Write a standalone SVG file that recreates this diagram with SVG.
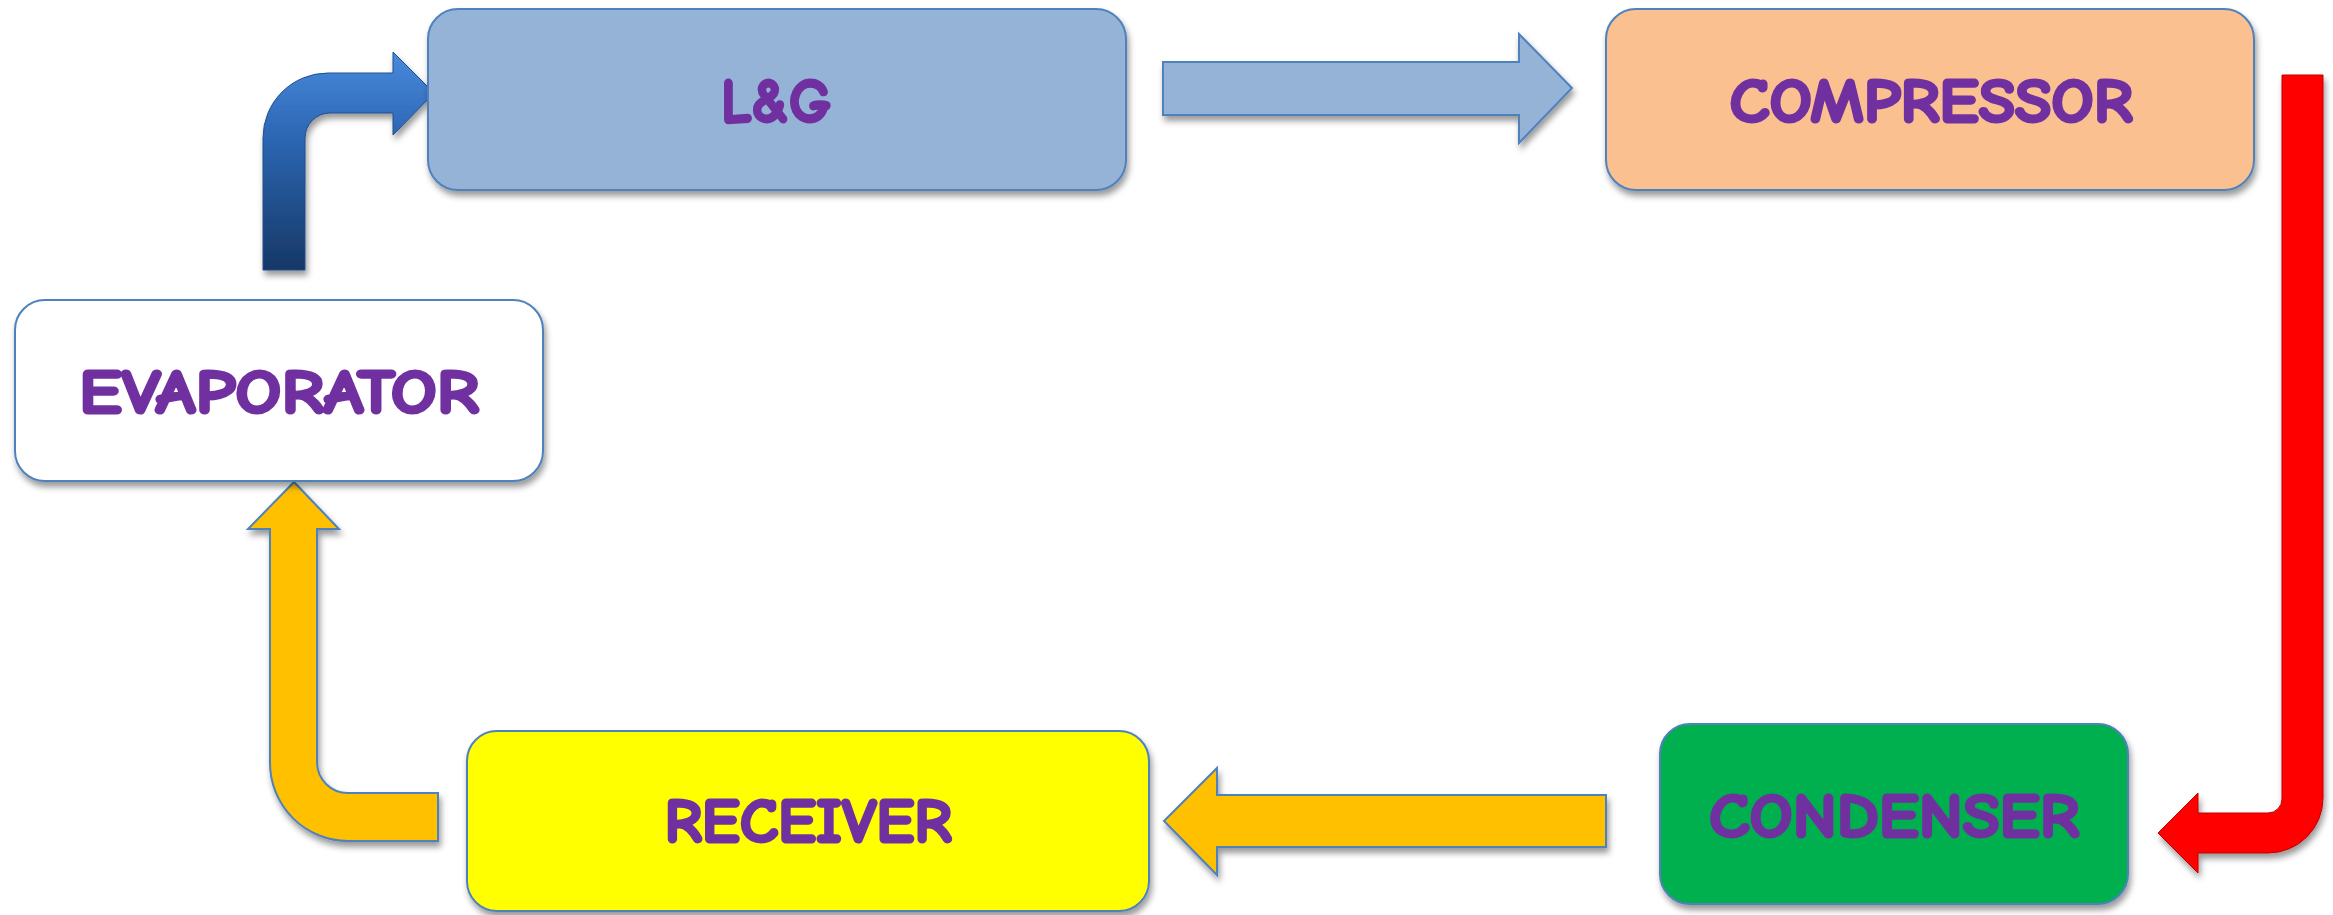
<svg xmlns="http://www.w3.org/2000/svg" width="2333" height="915" viewBox="0 0 2333 915">
  <style>
    .box { stroke: #4F81BD; stroke-width: 2; filter: url(#shadow); }
    .lbl { font-family: "Comic Sans MS", "Comic Neue", "DejaVu Sans", sans-serif; font-weight: bold; font-size: 62px; fill: #7030A0; stroke: #7030A0; stroke-width: 3; stroke-linejoin: round; text-anchor: middle; }
    .arr { stroke: #4F81BD; stroke-width: 2; filter: url(#shadow); }
  </style>
  <defs>
    <filter id="shadow" x="-10%" y="-10%" width="130%" height="130%">
      <feDropShadow dx="2" dy="5" stdDeviation="3" flood-color="#000" flood-opacity="0.4"/>
    </filter>
    <linearGradient id="blueGrad" gradientUnits="userSpaceOnUse" x1="0" y1="52" x2="0" y2="270">
      <stop offset="0" stop-color="#4A8ADB"/>
      <stop offset="0.35" stop-color="#2E6AB8"/>
      <stop offset="1" stop-color="#163866"/>
    </linearGradient>
  </defs>
  <rect width="2333" height="915" fill="#FFFFFF"/>

  <g id="connectors">
    <path id="evap-to-lg" d="M263,270 L263,138 A65,65 0 0 1 328,73 L393,73 L393,52 L434,93 L393,135 L393,113 L330,113 A25,25 0 0 0 305,138 L305,270 Z" fill="url(#blueGrad)" stroke="#1F4E8C" stroke-width="1" filter="url(#shadow)"/>
    <path id="lg-to-comp" class="arr" d="M1163,62 L1519,62 L1519,34 L1572,88 L1519,143 L1519,115 L1163,115 Z" fill="#95B3D7"/>
    <path id="comp-to-cond" d="M2282,75 L2323,75 L2323,798 A55,55 0 0 1 2268,853 L2198,853 L2198,873 L2158,833 L2198,793 L2198,813 L2268,813 A14,14 0 0 0 2282,799 Z" fill="#FF0000" stroke="#C00000" stroke-width="1" filter="url(#shadow)"/>
    <path id="cond-to-rec" class="arr" d="M1606,795 L1217,795 L1217,768 L1164,821 L1217,875 L1217,847 L1606,847 Z" fill="#FFC000"/>
    <path id="rec-to-evap" class="arr" d="M438,841 L348,841 A78,78 0 0 1 270,763 L270,529 L248,529 L294,482 L339,529 L317,529 L317,762 A31,31 0 0 0 348,793 L438,793 Z" fill="#FFC000"/>
  </g>

  <g id="lg">
    <rect class="box" x="428" y="9" width="698" height="181" rx="30" fill="#95B3D7"/>
    <text class="lbl" x="776" y="122" textLength="110" lengthAdjust="spacingAndGlyphs">L&amp;G</text>
  </g>
  <g id="compressor">
    <rect class="box" x="1606" y="9" width="648" height="181" rx="30" fill="#FAC090"/>
    <text class="lbl" x="1931" y="122" textLength="403" lengthAdjust="spacingAndGlyphs">COMPRESSOR</text>
  </g>
  <g id="evaporator">
    <rect class="box" x="15" y="300" width="528" height="181" rx="30" fill="#FFFFFF"/>
    <text class="lbl" x="279" y="413" textLength="400" lengthAdjust="spacingAndGlyphs">EVAPORATOR</text>
  </g>
  <g id="receiver">
    <rect class="box" x="467" y="731" width="682" height="180" rx="30" fill="#FFFF00"/>
    <text class="lbl" x="808" y="842" textLength="287" lengthAdjust="spacingAndGlyphs">RECEIVER</text>
  </g>
  <g id="condenser">
    <rect class="box" x="1660" y="724" width="468" height="180" rx="30" fill="#00B050"/>
    <text class="lbl" x="1894" y="837" textLength="370" lengthAdjust="spacingAndGlyphs">CONDENSER</text>
  </g>
</svg>
